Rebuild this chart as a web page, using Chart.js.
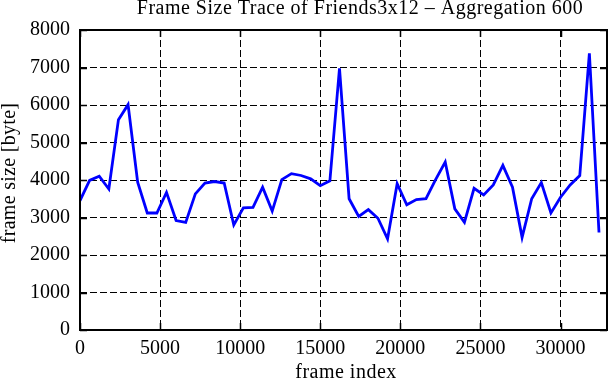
<!DOCTYPE html>
<html>
<head>
<meta charset="utf-8">
<script src="https://cdn.jsdelivr.net/npm/chart.js@4/dist/chart.umd.min.js"></script>
<style>
    html, body { margin: 0; padding: 0; background: #fff; }
    #wrap { width: 611px; height: 380px; }
</style>
</head>
<body>
<div id="wrap"><canvas id="chart"></canvas></div>
<script>
const chartTitle = 'Frame Size Trace of Friends3x12 \u2013 Aggregation 600'
const xTitle = 'frame index'
const yTitle = 'frame size [byte]'

const frameIndex = [
    0, 600, 1200, 1800, 2400, 3000, 3600, 4200, 4800, 5400,
    6000, 6600, 7200, 7800, 8400, 9000, 9600, 10200, 10800, 11400,
    12000, 12600, 13200, 13800, 14400, 15000, 15600, 16200, 16800, 17400,
    18000, 18600, 19200, 19800, 20400, 21000, 21600, 22200, 22800, 23400,
    24000, 24600, 25200, 25800, 26400, 27000, 27600, 28200, 28800, 29400,
    30000, 30600, 31200, 31800, 32400
]

const frameSize = [
    3450, 3990, 4100, 3760, 5610, 6010, 3940, 3120, 3120, 3670,
    2920, 2870, 3630, 3920, 3960, 3920, 2800, 3260, 3270, 3810,
    3170, 4010, 4170, 4120, 4030, 3850, 3980, 6980, 3500, 3030,
    3210, 2980, 2430, 3900, 3340, 3480, 3500, 4010, 4480, 3230,
    2870, 3780, 3600, 3870, 4390, 3810, 2470, 3500, 3930, 3120,
    3540, 3870, 4120, 7380, 2600
]

const xTicks = [0, 5000, 10000, 15000, 20000, 25000, 30000]
const yTicks = [0, 1000, 2000, 3000, 4000, 5000, 6000, 7000, 8000]

const serif = "'Liberation Serif', 'DejaVu Serif', serif"

// gnuplot style frame: solid border, inward ticks on all four sides, titles
const framePlugin = {
    id: 'frame',
    afterDraw(chart) {
        const { ctx, chartArea: a, scales } = chart
        const len = 7
        ctx.save()
        ctx.strokeStyle = '#000'
        ctx.lineWidth = 1.5
        ctx.beginPath()
        scales.x.ticks.forEach(t => {
            const px = Math.round(scales.x.getPixelForValue(t.value)) + 0.5
            ctx.moveTo(px, a.bottom); ctx.lineTo(px, a.bottom - len)
            ctx.moveTo(px, a.top); ctx.lineTo(px, a.top + len)
        })
        scales.y.ticks.forEach(t => {
            const py = Math.round(scales.y.getPixelForValue(t.value)) + 0.5
            ctx.moveTo(a.left, py); ctx.lineTo(a.left + len, py)
            ctx.moveTo(a.right, py); ctx.lineTo(a.right - len, py)
        })
        ctx.stroke()
        ctx.lineWidth = 2
        ctx.strokeRect(a.left, a.top, a.right - a.left, a.bottom - a.top)

        ctx.fillStyle = '#000'
        ctx.textAlign = 'center'
        ctx.textBaseline = 'alphabetic'
        ctx.font = '20px ' + serif
        ctx.letterSpacing = '0.5px'
        ctx.fillText(chartTitle, 360, 14)

        ctx.fillText(xTitle, 346, 378)

        ctx.letterSpacing = '0.3px'
        ctx.translate(15, 173)
        ctx.rotate(-Math.PI / 2)
        ctx.fillText(yTitle, 0, 0)
        ctx.restore()
    }
}

const data = {
    datasets: [{
        data: frameIndex.map((f, i) => ({ x: f, y: frameSize[i] })),
        borderColor: '#0000ff',
        borderWidth: 2.8,
        pointRadius: 0,
        tension: 0,
        fill: false
    }]
}

const options = {
    responsive: true,
    maintainAspectRatio: false,
    animation: false,
    layout: {
        padding: { top: 30, right: 4, left: 0, bottom: 0 }
    },
    plugins: {
        legend: { display: false },
        tooltip: { enabled: false }
    },
    scales: {
        x: {
            type: 'linear',
            min: 0,
            max: 32900,
            afterBuildTicks: scale => {
                scale.ticks = xTicks.map(v => ({ value: v }))
            },
            afterFit: scale => { scale.height = 50 },
            ticks: {
                color: '#000',
                padding: 7,
                maxRotation: 0,
                font: { family: serif, size: 20 },
                callback: v => String(v)
            },
            grid: { color: '#000', lineWidth: 1, drawTicks: false },
            border: { display: false, dash: [7, 3] }
        },
        y: {
            min: 0,
            max: 8000,
            afterBuildTicks: scale => {
                scale.ticks = yTicks.map(v => ({ value: v }))
            },
            afterFit: scale => { scale.width = 80 },
            ticks: {
                color: '#000',
                padding: 10,
                font: { family: serif, size: 20 },
                callback: v => String(v)
            },
            grid: { color: '#000', lineWidth: 1, drawTicks: false },
            border: { display: false, dash: [7, 3] }
        }
    }
}

new Chart('chart', { type: 'line', data, options, plugins: [framePlugin] })
</script>
</body>
</html>
